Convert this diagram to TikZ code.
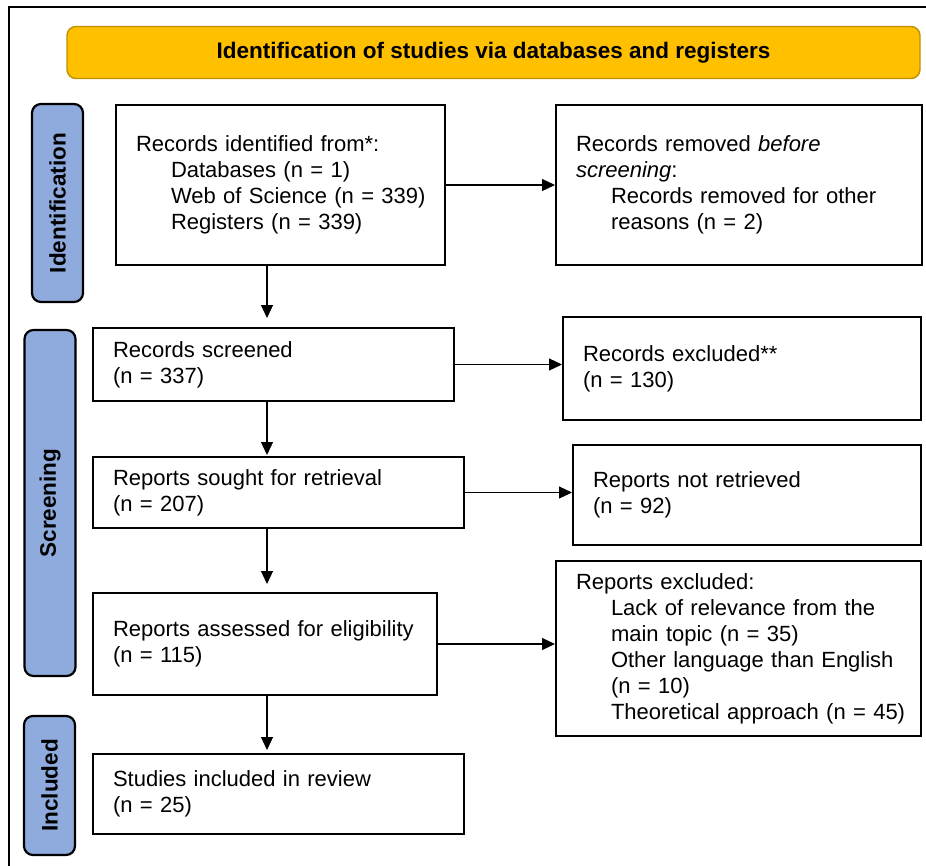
\documentclass[tikz,border=0pt]{standalone}
\usepackage{fontspec}
\setmainfont{Liberation Sans}
\usetikzlibrary{arrows.meta}
\definecolor{bannerfill}{RGB}{255,192,0}
\definecolor{bannerline}{RGB}{191,144,0}
\definecolor{phasefill}{RGB}{143,170,220}
\tikzstyle{box}=[draw,line width=2pt,align=left,inner xsep=20pt,inner ysep=0pt,
  font=\fontsize{22}{26}\selectfont]
\tikzstyle{phase}=[draw,line width=2.2pt,fill=phasefill,rounded corners=9pt,rotate=90,
  minimum height=51pt,inner sep=0pt,font=\fontsize{22.5}{26}\selectfont\bfseries]
\tikzstyle{banner}=[draw=bannerline,line width=1.4pt,fill=bannerfill,rounded corners=9pt,
  minimum width=853pt,minimum height=52pt,font=\fontsize{22.5}{26}\selectfont\bfseries]
\tikzstyle{flow}=[line width=1.2pt,-{Triangle[length=13pt,width=12pt]}]
\newcommand{\lin}[1]{\mbox{#1}}
\newcommand{\ind}[1]{\hspace*{35pt}\mbox{#1}}

\begin{document}
\begin{tikzpicture}[x=1pt,y=-1pt]
  \useasboundingbox (0,0) rectangle (926,865);
  \clip (0,0) rectangle (926,865);
  % outer frame
  \draw[line width=1.5pt] (9,7) rectangle (940,880);
  % title bar
  \node[banner] (title) at (493.5,52.5) {Identification of studies via databases and registers};
  % phase labels on the left
  \foreach \pos/\h/\name/\txt in {{(57.5,203)/198/sideid/Identification},
                                  {(50,503)/346/sidescr/Screening},
                                  {(49.5,785.5)/139/sideinc/Included}}
    \node[phase,minimum width=\h pt] (\name) at \pos {\txt};
  % main column
  \node[box,text width=289pt,minimum height=160pt] (ident) at (280.5,185)
    {\lin{Records identified from*:}\\\ind{Databases (n = 1)}\\\ind{Web of Science (n = 339)}\\\ind{Registers (n = 339)}};
  \node[box,text width=321pt,minimum height=73pt] (screened) at (273.5,364.5)
    {\lin{Records screened}\\\lin{(n = 337)}};
  \node[box,text width=331pt,minimum height=71pt] (sought) at (278.5,492.5)
    {\lin{Reports sought for retrieval}\\\lin{(n = 207)}};
  \node[box,text width=304pt,minimum height=102pt] (assessed) at (265,644)
    {\lin{Reports assessed for eligibility}\\\lin{(n = 115)}};
  \node[box,text width=331pt,minimum height=80pt] (included) at (278.5,794)
    {\lin{Studies included in review}\\\lin{(n = 25)}};
  % right column
  \node[box,text width=326pt,minimum height=160pt] (removed) at (739,185)
    {\lin{Records removed \textit{before}}\\\lin{\textit{screening}:}\\\ind{Records removed for other}\\\ind{reasons (n = 2)}};
  \node[box,text width=318pt,minimum height=103pt] (excluded) at (742,368.5)
    {\lin{Records excluded**}\\\lin{(n = 130)}};
  \node[box,text width=308pt,minimum height=100pt] (notret) at (747,495)
    {\lin{Reports not retrieved}\\\lin{(n = 92)}};
  \node[box,text width=325pt,minimum height=175pt] (repexcl) at (738.5,648.5)
    {\lin{Reports excluded:}\\\ind{Lack of relevance from the}\\\ind{main topic (n = 35)}\\\ind{Other language than English}\\\ind{(n = 10)}\\\ind{Theoretical approach (n = 45)}};
  % connectors
  \coordinate (col) at (267,0);
  \foreach \a/\b/\s in {ident/screened/9, screened/sought/1, sought/assessed/8, assessed/included/3}
    \draw[flow,shorten >=\s pt] (col |- \a.south) -- (col |- \b.north);
  \foreach \a/\b in {ident/removed, screened/excluded, sought/notret, assessed/repexcl}
    \draw[flow] (\a.east) -- (\a.east -| \b.west);
\end{tikzpicture}
\end{document}
